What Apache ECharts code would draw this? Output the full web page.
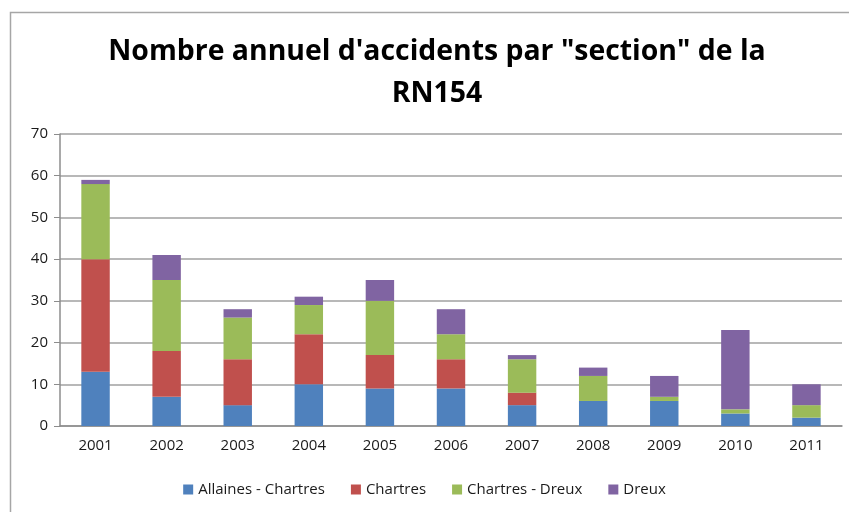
<!DOCTYPE html>
<html>
<head>
<meta charset="utf-8">
<script src="https://cdn.jsdelivr.net/npm/echarts@6/dist/echarts.min.js"></script>
<style>html,body{margin:0;padding:0;background:#fff}#c{width:849px;height:512px}</style>
</head>
<body>
<div id="c"></div>
<script>
const categories = ['2001','2002','2003','2004','2005','2006','2007','2008','2009','2010','2011'];
const allainesChartres = [13, 7, 5, 10, 9, 9, 5, 6, 6, 3, 2];
const chartres = [27, 11, 11, 12, 8, 7, 3, 0, 0, 0, 0];
const chartresDreux = [18, 17, 10, 7, 13, 6, 8, 6, 1, 1, 3];
const dreux = [1, 6, 2, 2, 5, 6, 1, 2, 5, 19, 5];
const seriesNames = ['Allaines - Chartres', 'Chartres', 'Chartres - Dreux', 'Dreux'];
const colors = ['#4F81BD', '#C0504D', '#9BBB59', '#8064A2'];
const yTicks = {min: 0, max: 70, interval: 10};

const chart = echarts.init(document.getElementById('c'));
const font = 'Open Sans, sans-serif';
const dataSets = [allainesChartres, chartres, chartresDreux, dreux];
chart.setOption({
  animation: false,
  color: colors,
  graphic: [{
    type: 'rect', silent: true,
    shape: {x: 10.5, y: 12.5, width: 900, height: 600},
    style: {fill: 'none', stroke: '#a6a6a6', lineWidth: 1.5}
  }, {
    type: 'text', silent: true,
    x: 437, y: 31,
    style: {
      text: 'Nombre annuel d\'accidents par "section" de la\nRN154',
      font: 'bold 28.4px Open Sans, sans-serif', lineHeight: 42,
      fill: '#000', align: 'center', verticalAlign: 'top'
    }
  }],
  legend: {
    bottom: 10, left: 'center',
    itemWidth: 10, itemHeight: 10, itemGap: 26, icon: 'rect',
    textStyle: {fontFamily: font, fontSize: 15, color: '#1a1a1a'},
    data: seriesNames
  },
  grid: {left: 60, right: 7, top: 134, bottom: 86},
  xAxis: {
    type: 'category', data: categories,
    axisLine: {lineStyle: {color: '#8c8c8c', width: 1.5}},
    axisTick: {length: 6, lineStyle: {color: '#8c8c8c'}},
    axisLabel: {fontFamily: font, fontSize: 15, color: '#1a1a1a', margin: 12}
  },
  yAxis: {
    type: 'value', min: yTicks.min, max: yTicks.max, interval: yTicks.interval,
    axisLine: {show: true, lineStyle: {color: '#8c8c8c', width: 1.5}},
    axisTick: {show: true, length: 6, lineStyle: {color: '#8c8c8c'}},
    splitLine: {lineStyle: {color: '#a0a0a0', width: 1.5}},
    axisLabel: {fontFamily: font, fontSize: 15, color: '#1a1a1a', margin: 12}
  },
  series: seriesNames.map((n, i) => ({
    name: n, type: 'bar', stack: 'total', barWidth: '40%',
    data: dataSets[i]
  }))
});
</script>
</body>
</html>
